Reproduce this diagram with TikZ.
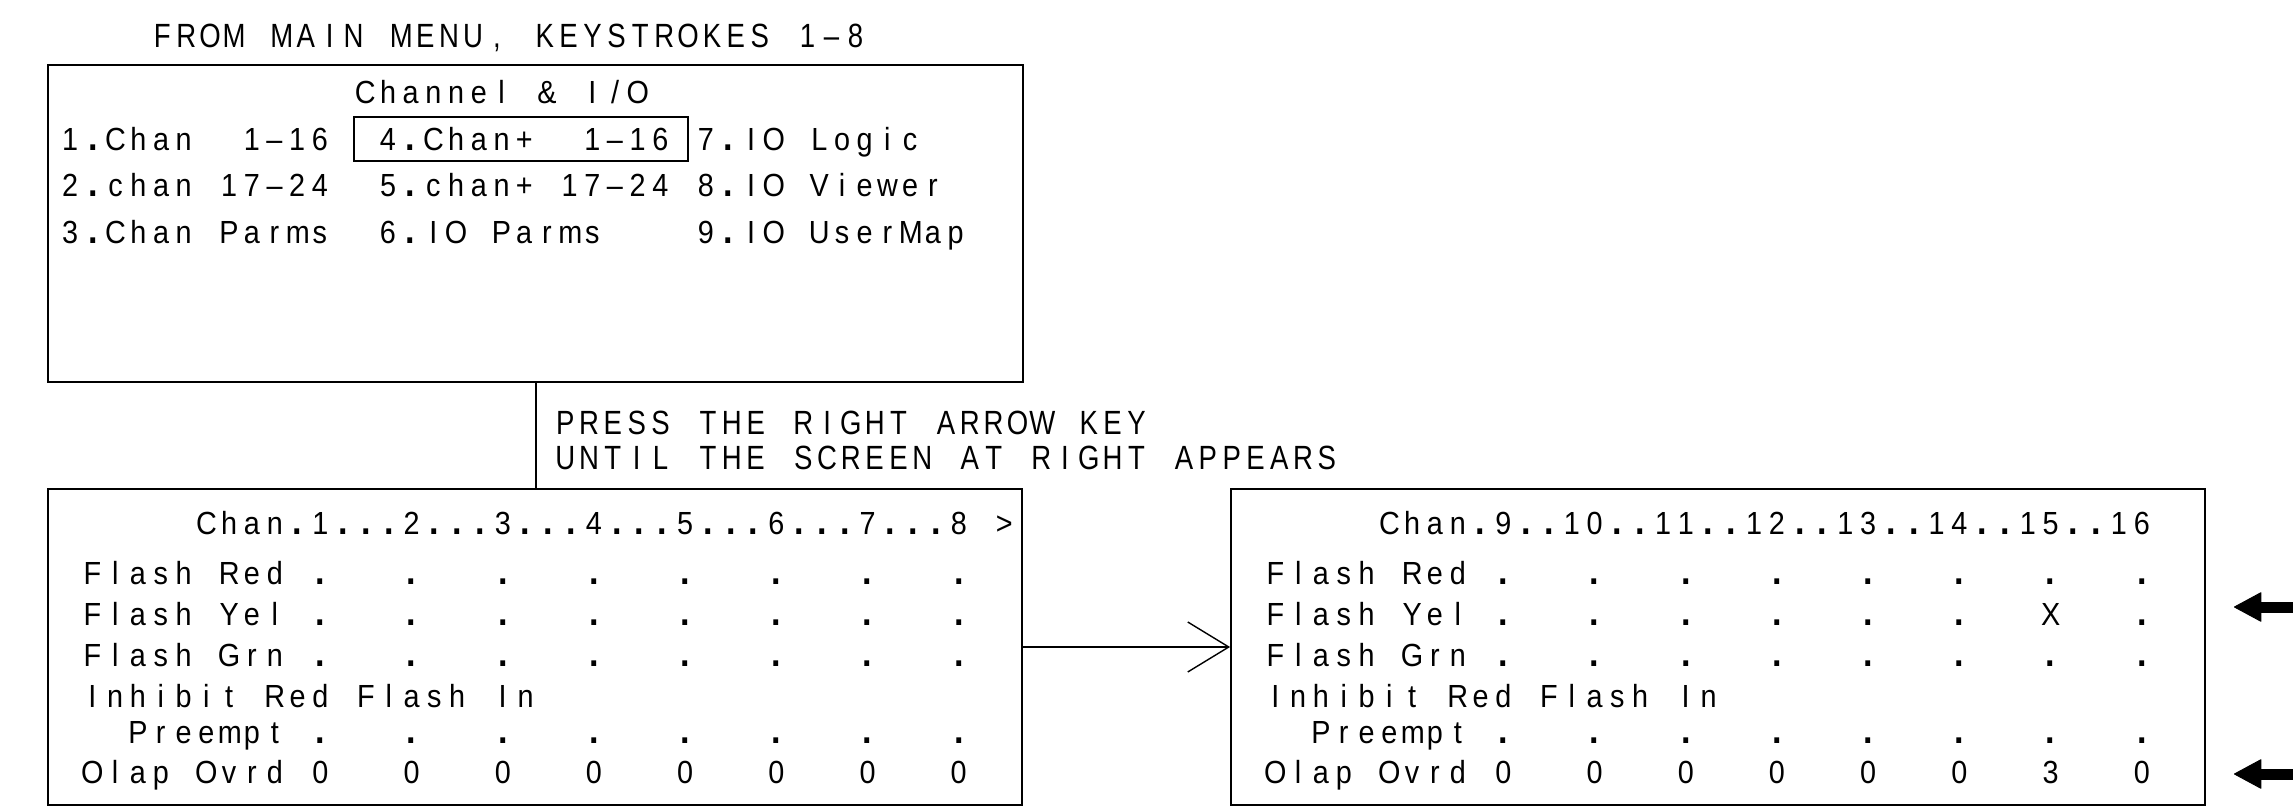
\documentclass[tikz,border=0pt]{standalone}
\usepackage{fontspec}
\usetikzlibrary{arrows.meta}

% sans faces for the terminal screens and for the notes
\newfontfamily\screenfont[FakeStretch=0.9]{Liberation Sans}
\newfontfamily\notefont[FakeStretch=0.82]{Liberation Sans}

% \celltext{pitch}{text}: sets every character in a cell of fixed width,
% "_" leaves an empty cell, "-" is set as a dash, "." as a heavier dot
\newlength\cellw
\ExplSyntaxOn
\NewDocumentCommand\celltext{m m}
 {
  \setlength\cellw{#1}
  \str_map_inline:nn {#2}
   {
    \str_case:nnF {##1}
     {
      {_}{\hbox_to_wd:nn {\cellw}{}}
      {-}{\hbox_to_wd:nn {\cellw}{\hfil\textendash\hfil}}
      {.}{\hbox_to_wd:nn {\cellw}{\hfil{\fontsize{19pt}{19pt}\selectfont\textbf{.}}\hfil}}
     }
     {\hbox_to_wd:nn {\cellw}{\hfil ##1 \hfil}}
   }
 }
\ExplSyntaxOff

\tikzset{
  screenbox/.style={draw, line width=0.9pt, inner sep=0pt},
  selbox/.style={draw, line width=0.7pt, inner sep=0pt},
  thinline/.style={line width=0.7pt},
  scr/.style={anchor=base west, inner sep=0pt,
    font=\screenfont\fontsize{16pt}{19pt}\selectfont},
  note/.style={anchor=base west, inner sep=0pt,
    font=\notefont\fontsize{16.8pt}{20pt}\selectfont},
  fat/.style={line width=5.5pt,
    -{Triangle[length=14pt,width=15pt,line width=0.5pt,round]}},
}

\begin{document}
\begin{tikzpicture}[x=0.5pt,y=-0.5pt]
\useasboundingbox (0,0) rectangle (2293,807);
\fill[white] (0,0) rectangle (2293,807);

% caption above the menu
\node[note] (title) at (150,48) {\celltext{11.95pt}{FROM_MAIN_MENU,_KEYSTROKES_1-8}};

% Channel & I/O menu screen
\node[screenbox, minimum width=487.5pt, minimum height=158.5pt] (menu) at (535.5,223.5) {};
\node[selbox, minimum width=167pt, minimum height=22pt] (sel) at (521,139) {};
\node[scr] (menuhdr) at (353.6,104) {\celltext{11.35pt}{Channel_&_I/O}};
\node[scr] (m1) at (58.5,150.5) {\celltext{11.35pt}{1.Chan__1-16__4.Chan+__1-16_7.IO_Logic}};
\node[scr] (m2) at (58.5,197) {\celltext{11.35pt}{2.chan_17-24__5.chan+_17-24_8.IO_Viewer}};
\node[scr] (m3) at (58.5,244) {\celltext{11.35pt}{3.Chan_Parms__6.IO_Parms____9.IO_UserMap}};

% instruction between the screens
\node[note] (press1) at (553,435) {\celltext{11.9pt}{PRESS_THE_RIGHT_ARROW_KEY}};
\node[note] (press2) at (553,470) {\celltext{11.9pt}{UNTIL_THE_SCREEN_AT_RIGHT_APPEARS}};

% channels 1-8 screen
\node[screenbox, minimum width=487pt, minimum height=158pt] (chanA) at (535,647) {};
\node[scr] (aHdr) at (80.6,535) {\celltext{11.4pt}{_____Chan.1...2...3...4...5...6...7...8_>}};
\node[scr] (aRed) at (80.6,584) {\celltext{11.4pt}{Flash_Red_.___.___.___.___.___.___.___.}};
\node[scr] (aYel) at (80.6,625) {\celltext{11.4pt}{Flash_Yel_.___.___.___.___.___.___.___.}};
\node[scr] (aGrn) at (80.6,667) {\celltext{11.4pt}{Flash_Grn_.___.___.___.___.___.___.___.}};
\node[scr] (aInh) at (80.6,707) {\celltext{11.4pt}{Inhibit_Red_Flash_In}};
\node[scr] (aPre) at (80.6,743) {\celltext{11.4pt}{__Preempt_.___.___.___.___.___.___.___.}};
\node[scr] (aOlp) at (80.6,783) {\celltext{11.4pt}{Olap_Ovrd_0___0___0___0___0___0___0___0}};

% channels 9-16 screen
\node[screenbox, minimum width=487pt, minimum height=158pt] (chanB) at (1718,647) {};
\node[scr] (bHdr) at (1263.6,535) {\celltext{11.4pt}{_____Chan.9..10..11..12..13..14..15..16}};
\node[scr] (bRed) at (1263.6,584) {\celltext{11.4pt}{Flash_Red_.___.___.___.___.___.___.___.}};
\node[scr] (bYel) at (1263.6,625) {\celltext{11.4pt}{Flash_Yel_.___.___.___.___.___.___X___.}};
\node[scr] (bGrn) at (1263.6,667) {\celltext{11.4pt}{Flash_Grn_.___.___.___.___.___.___.___.}};
\node[scr] (bInh) at (1263.6,707) {\celltext{11.4pt}{Inhibit_Red_Flash_In}};
\node[scr] (bPre) at (1263.6,743) {\celltext{11.4pt}{__Preempt_.___.___.___.___.___.___.___.}};
\node[scr] (bOlp) at (1263.6,783) {\celltext{11.4pt}{Olap_Ovrd_0___0___0___0___0___0___3___0}};

% connectors
\coordinate (dropx) at (536,0);
\draw[thinline] (menu.south -| dropx) -- (chanA.north -| dropx);
\draw[thinline, -{Straight Barb[length=20.5pt,width=25pt]}] (chanA.east) -- (chanB.west);

% markers pointing at the changed rows
\coordinate (yelTail) at (2293,607);
\coordinate (yelTip) at (2234,607);
\coordinate (olpTail) at (2293,774);
\coordinate (olpTip) at (2234,774);
\draw[fat] (yelTail) -- (yelTip);
\draw[fat] (olpTail) -- (olpTip);
\end{tikzpicture}
\end{document}
